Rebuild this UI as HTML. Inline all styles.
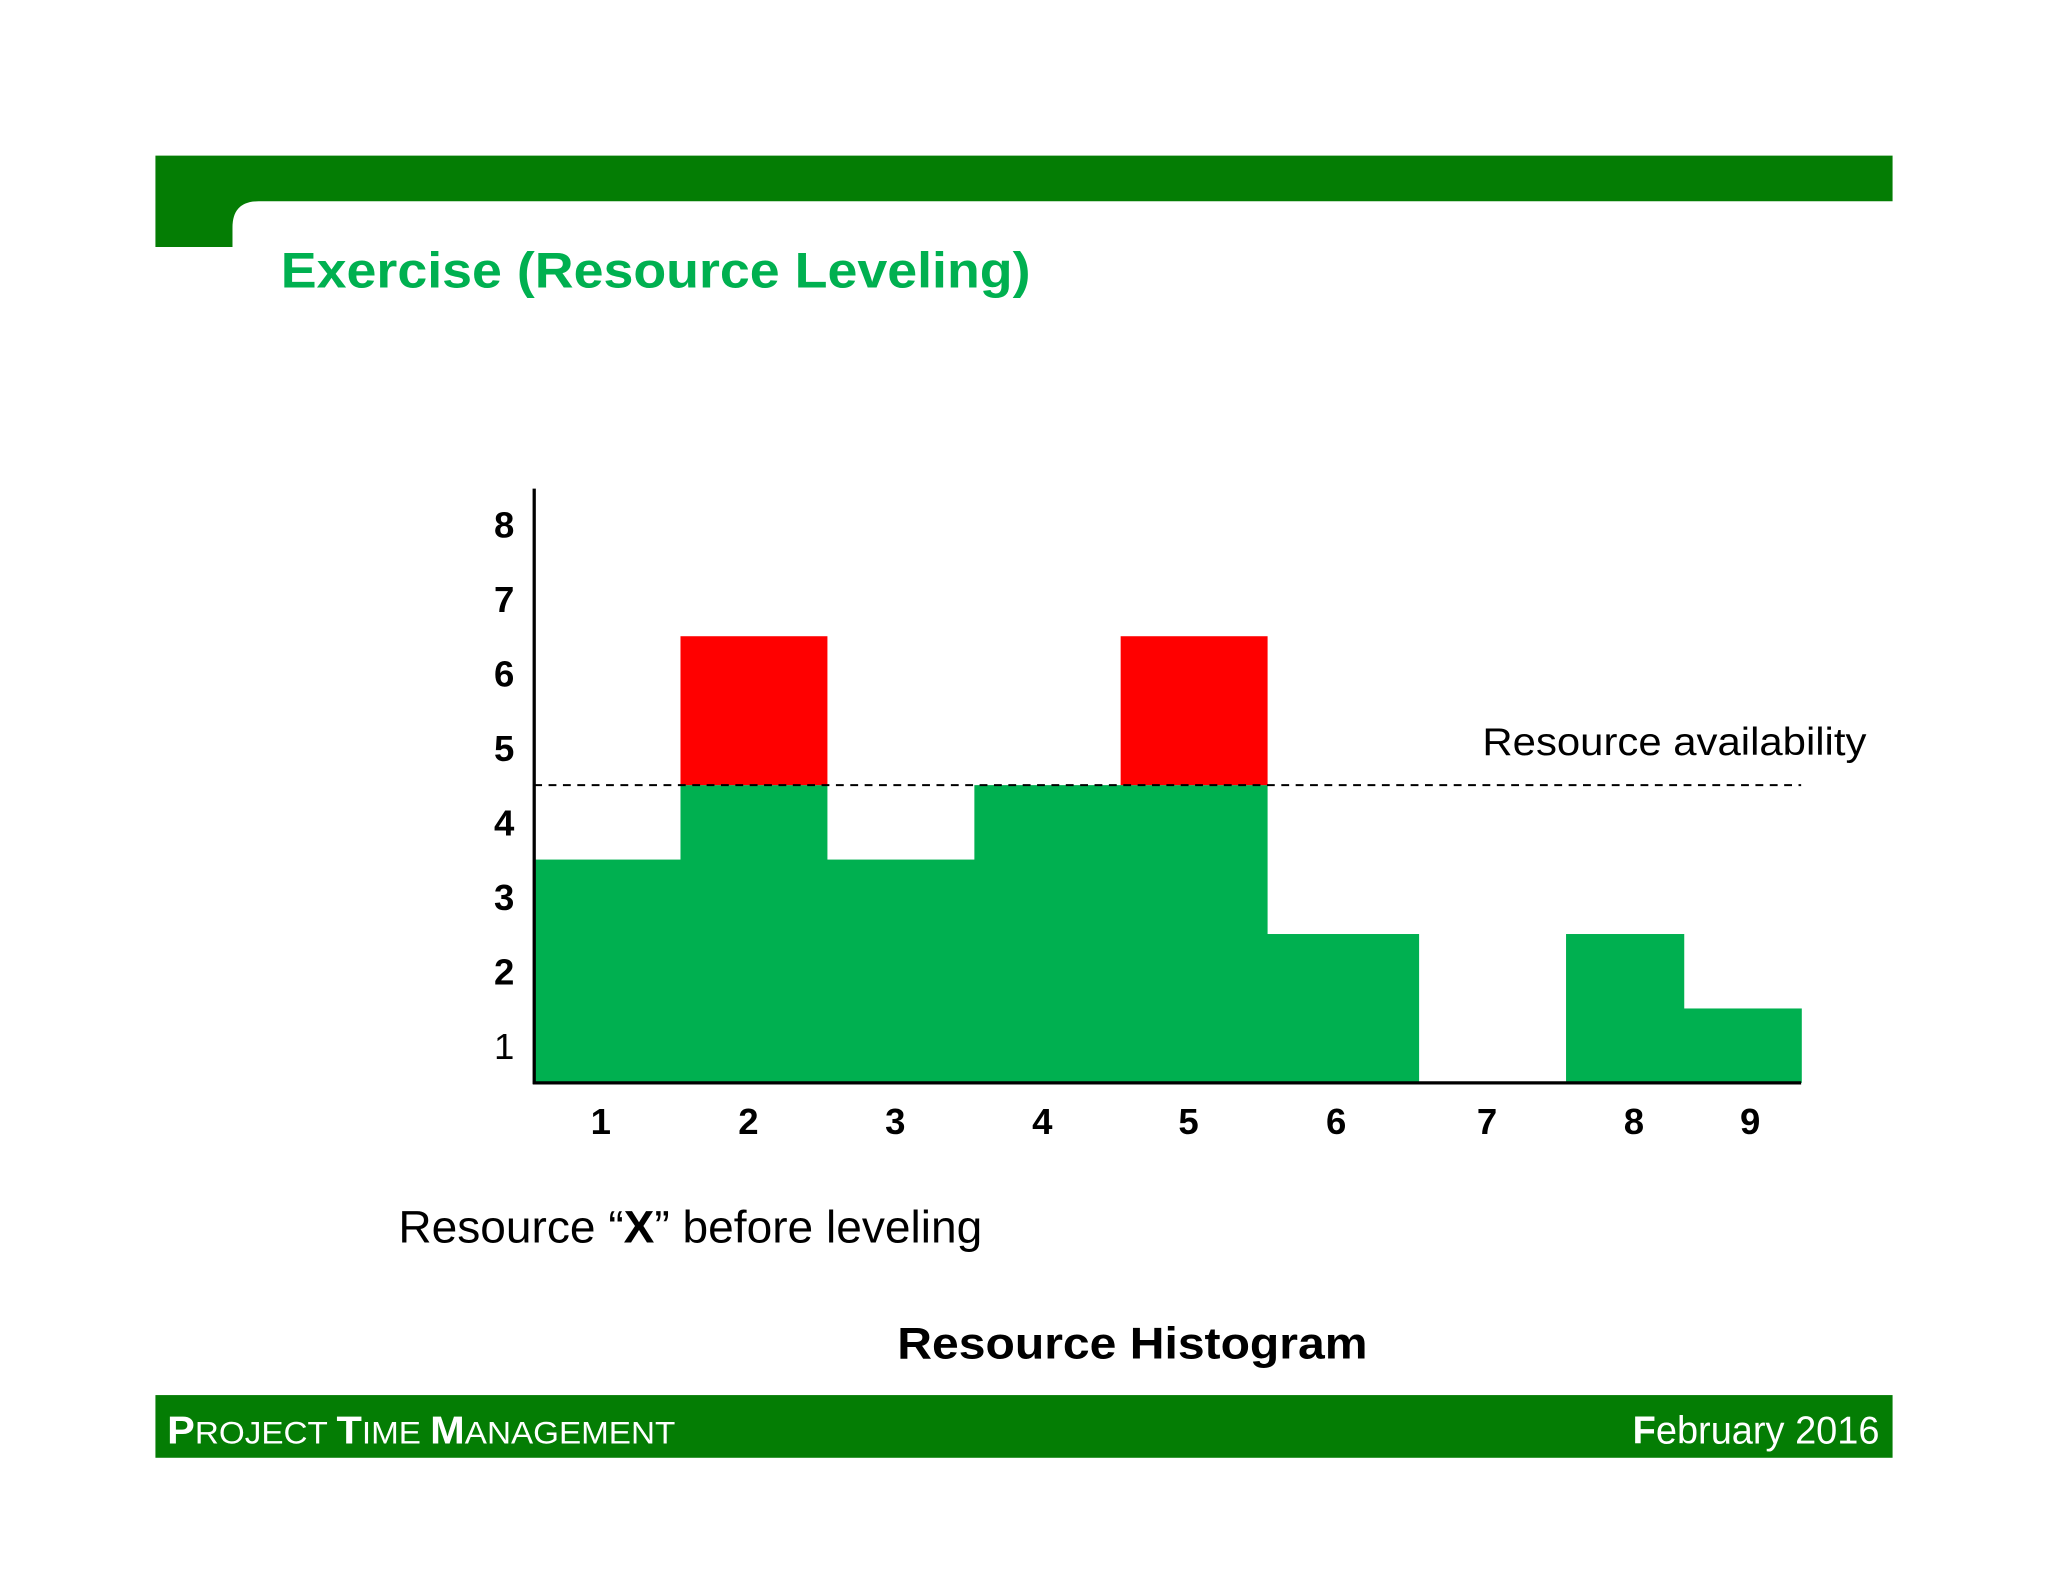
<!DOCTYPE html>
<html><head><meta charset="utf-8"><style>
html,body{margin:0;padding:0;background:#fff;}
svg{display:block;}
text{font-family:"Liberation Sans",sans-serif;}
</style></head><body>
<svg id="chart" width="2048" height="1582" viewBox="0 0 1568 1211" xmlns="http://www.w3.org/2000/svg">
<rect x="0" y="0" width="1568" height="1211" fill="#fff"/>
<path d="M119 119 H1449 V154 H198 Q178 154 178 174 V189 H119 Z" fill="#047d04"/>
<text x="215" y="220" font-size="38" font-weight="bold" fill="#00b050" font-family="DejaVu Sans, sans-serif" textLength="574" lengthAdjust="spacingAndGlyphs">Exercise (Resource Leveling)</text>
<g id="plot"></g>
<text x="1135" y="578" font-size="30" fill="#000" textLength="294" lengthAdjust="spacingAndGlyphs">Resource availability</text>
<text x="305" y="951" font-size="35" fill="#000" textLength="447" lengthAdjust="spacingAndGlyphs">Resource “<tspan font-weight="bold">X</tspan>” before leveling</text>
<text x="867" y="1040" font-size="34" font-weight="bold" text-anchor="middle" fill="#000" textLength="360" lengthAdjust="spacingAndGlyphs">Resource Histogram</text>
<rect x="119" y="1068" width="1330" height="48" fill="#047d04"/>
<text x="128" y="1105" font-size="30" fill="#fff" textLength="389" lengthAdjust="spacingAndGlyphs"><tspan font-weight="bold">P</tspan><tspan font-size="24">ROJECT </tspan><tspan font-weight="bold">T</tspan><tspan font-size="24">IME </tspan><tspan font-weight="bold">M</tspan><tspan font-size="24">ANAGEMENT</tspan></text>
<text x="1439" y="1105" font-size="30" fill="#fff" text-anchor="end" textLength="189" lengthAdjust="spacingAndGlyphs"><tspan font-weight="bold">F</tspan>ebruary 2016</text>
</svg>
<script>
const categories = ["1","2","3","4","5","6","7","8","9"];
const withinLimit = [3,4,3,4,4,2,0,2,1];
const overLimit = [0,2,0,0,2,0,0,0,0];
const yTicks = [1,2,3,4,5,6,7,8];
const availability = 4;

const NS="http://www.w3.org/2000/svg";
const g=document.getElementById('plot');
const x0=409,x1=1379,y0=829,unit=57;
const edgesFrac=[0,112,224,337,449,561,677,790,880,970]; // layout widths
const labelShift=[-5,-4,-4,-4,-4,-5,-4,7,6]; // layout offsets
function yv(v){return y0-v*unit;}
function xL(i){return x0+edgesFrac[i];}
function xR(i){return x0+edgesFrac[i+1];}
function mk(t,a){const e=document.createElementNS(NS,t);for(const k in a)e.setAttribute(k,a[k]);g.appendChild(e);return e;}
const avY=yv(availability);
categories.forEach((c,i)=>{
  if(withinLimit[i]>0){
    const top=withinLimit[i];
    const r=mk('rect',{x:xL(i),y:yv(top),width:xR(i)-xL(i)+0.5,height:y0-yv(top),fill:'#00b050'});
    
    
  }
  if(overLimit[i]>0){
    const top=withinLimit[i]+overLimit[i];
    const r=mk('rect',{x:xL(i),y:yv(top),width:xR(i)-xL(i)+0.5,height:yv(withinLimit[i])-yv(top),fill:'#ff0000'});
    
    
  }
  const t=mk('text',{x:(xL(i)+xR(i))/2+labelShift[i],y:868,'font-size':28,'font-weight':'bold','text-anchor':'middle'});
  t.textContent=c;
  
  
});
yTicks.forEach(v=>{
  const t=mk('text',{x:386,y:yv(v-0.5)+10,'font-size':28,'font-weight':v===1?'normal':'bold','text-anchor':'middle'});
  t.textContent=v;
  
  
});
const dl=mk('line',{x1:x0,y1:avY,x2:x1,y2:avY,stroke:'#000','stroke-width':1.5,'stroke-dasharray':'6,5'});


const ya=mk('line',{x1:x0,y1:374,x2:x0,y2:y0+1,stroke:'#000','stroke-width':2.5});


const xa=mk('line',{x1:x0-1,y1:y0,x2:x1,y2:y0,stroke:'#000','stroke-width':2.5});


</script>
</body></html>
